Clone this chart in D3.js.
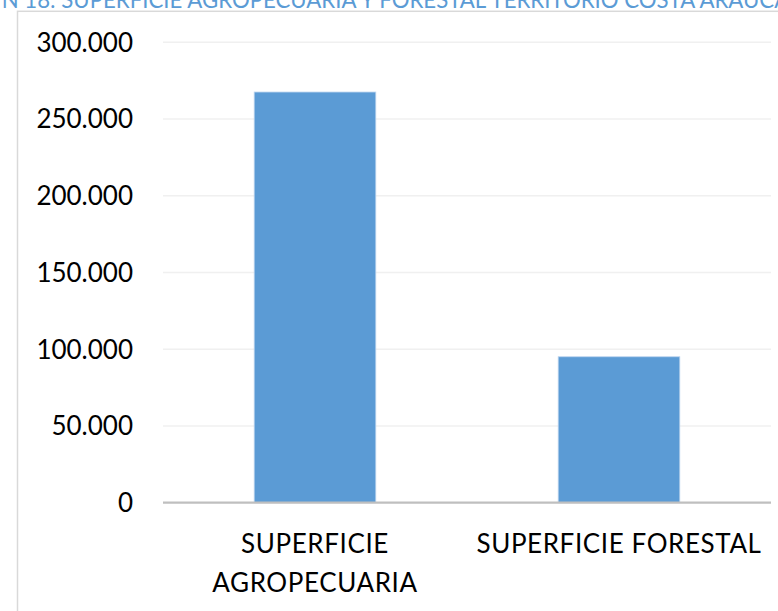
<!DOCTYPE html>
<html>
<head>
<meta charset="utf-8">
<script src="https://cdn.jsdelivr.net/npm/d3@7"></script>
<style>
  body { margin: 0; background: #fff; }
  svg { display: block; }
  .tick-lbl, .cat-lbl { font-family: Lato, "Open Sans", sans-serif; fill: #000; }
</style>
</head>
<body>
<div id="chart"></div>
<script>
var width = 778;
var height = 611;

// data
var categories = ["SUPERFICIE AGROPECUARIA", "SUPERFICIE FORESTAL"];
var values = [267600, 95100];
var yTicks = [0, 50000, 100000, 150000, 200000, 250000, 300000];
var titleText = "GRÁFICO N 18: SUPERFICIE AGROPECUARIA Y FORESTAL TERRITORIO COSTA ARAUCANÍA";

var margin = {left: 163, right: 7, top: 42.3, bottom: 108.3};

var svg = d3.select('#chart')
  .append('svg')
  .attr('width', width)
  .attr('height', height);

// chart frame
svg.append('rect')
  .attr('x', 17.5)
  .attr('y', 11.3)
  .attr('width', width + 20)
  .attr('height', height + 20)
  .attr('fill', 'none')
  .attr('stroke', '#d9d9d9')
  .attr('stroke-width', 1.5);

// title, cut at the top of the picture like the reference
var measure = function(str, size){
  var t = svg.append('text')
    .style('font-family', 'Lato, sans-serif')
    .style('font-size', size + 'px')
    .text(str);
  var w = t.node().getComputedTextLength();
  t.remove();
  return w;
};
// size so "N 18: ... ARAUCA" runs from the left edge to just past the right edge
var tSize = 20 * 788 / measure('N 18: SUPERFICIE AGROPECUARIA Y FORESTAL TERRITORIO COSTA ARAUCA', 20);
var preW = measure('GRÁFICO ', tSize);
svg.append('text')
  .attr('x', -4 - preW)
  .attr('y', 8)
  .attr('fill', '#5b9bd5')
  .style('font-family', 'Lato, sans-serif')
  .style('font-size', tSize + 'px')
  .text(titleText);

var x = d3.scaleBand()
  .domain(categories)
  .range([margin.left, width - margin.right])
  .paddingInner(0.6)
  .paddingOuter(0.3);

var y = d3.scaleLinear()
  .domain([0, 300000])
  .range([height - margin.bottom, margin.top]);

// gridlines
svg.append('g')
  .selectAll('line')
  .data(yTicks.filter(function(d){ return d > 0; }))
  .enter()
  .append('line')
  .attr('x1', margin.left)
  .attr('x2', width - margin.right)
  .attr('y1', function(d){ return y(d); })
  .attr('y2', function(d){ return y(d); })
  .attr('stroke', '#f0f0f0')
  .attr('stroke-width', 1.5);

// y labels
svg.append('g')
  .selectAll('text')
  .data(yTicks)
  .enter()
  .append('text')
  .attr('class', 'tick-lbl')
  .attr('x', 133)
  .attr('y', function(d){ return y(d); })
  .attr('dy', '0.36em')
  .attr('text-anchor', 'end')
  .style('font-size', '26px')
  .text(function(d){ return d === 0 ? '0' : d3.format(',')(d).replace(/,/g, '.'); });

// bars
svg.append('g')
  .selectAll('rect')
  .data(values)
  .enter()
  .append('rect')
  .attr('x', function(d, i){ return x(categories[i]); })
  .attr('y', function(d){ return y(d); })
  .attr('width', x.bandwidth())
  .attr('height', function(d){ return y(0) - y(d); })
  .attr('fill', '#5b9bd5')
  .attr('stroke', '#bcd4ee')
  .attr('stroke-width', 0.8);

// x axis line
svg.append('line')
  .attr('x1', margin.left)
  .attr('x2', width - margin.right)
  .attr('y1', y(0))
  .attr('y2', y(0))
  .attr('stroke', '#bfbfbf')
  .attr('stroke-width', 2.2);

// category labels, wrapped to band step
var step = x.step();
categories.forEach(function(c){
  var cx = x(c) + x.bandwidth() / 2;
  var t = svg.append('text')
    .attr('class', 'cat-lbl')
    .attr('text-anchor', 'middle')
    .style('font-size', '26px')
    .style('letter-spacing', '0.6px');
  var words = c.split(' ');
  var lines = [];
  var cur = [];
  words.forEach(function(w){
    var test = cur.concat([w]).join(' ');
    t.text(test);
    if (t.node().getComputedTextLength() > step - 4 && cur.length) {
      lines.push(cur.join(' '));
      cur = [w];
    } else {
      cur.push(w);
    }
  });
  lines.push(cur.join(' '));
  t.text(null);
  lines.forEach(function(l, i){
    t.append('tspan')
      .attr('x', cx)
      .attr('y', 553 + i * 38.5)
      .text(l);
  });
});
</script>
</body>
</html>
